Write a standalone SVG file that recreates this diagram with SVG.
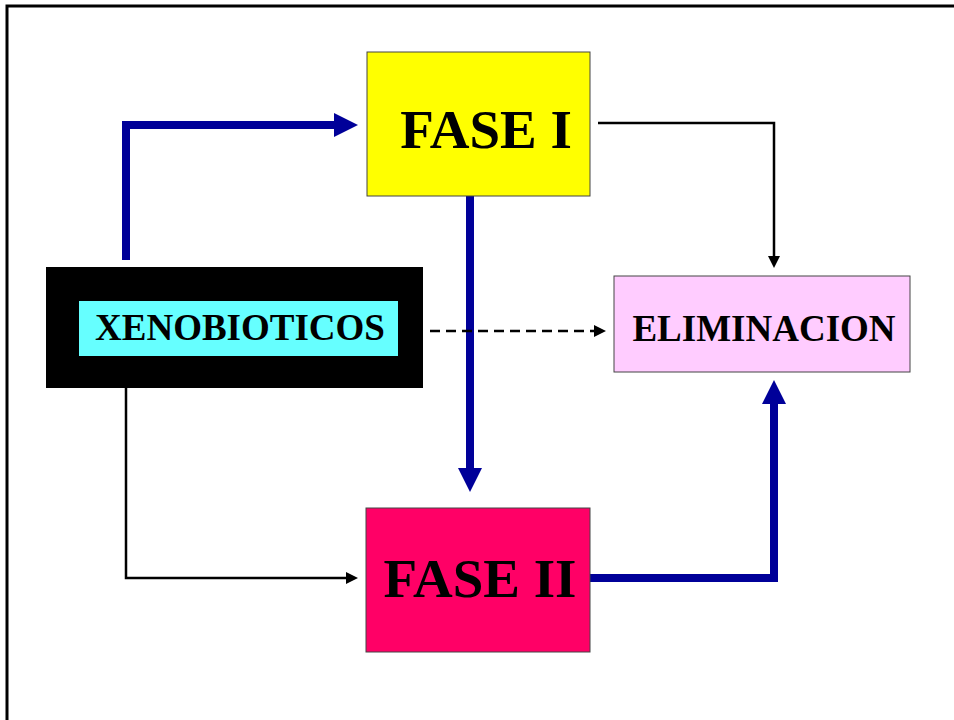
<svg xmlns="http://www.w3.org/2000/svg" width="954" height="720" viewBox="0 0 954 720">
<style>
.t{font-family:"Liberation Serif","Times New Roman",serif;font-weight:bold;fill:#000}
.blue{fill:none;stroke:#000099;stroke-width:8}
.thin{fill:none;stroke:#000;stroke-width:2.5}
</style>
<defs>
<marker id="bh" markerUnits="userSpaceOnUse" markerWidth="26" markerHeight="26" refX="0" refY="12" orient="auto"><path d="M0,0 L24,12 L0,24 Z" fill="#000099"/></marker>
<marker id="kh" markerUnits="userSpaceOnUse" markerWidth="14" markerHeight="14" refX="0" refY="6" orient="auto"><path d="M0,0 L12,6 L0,12 Z" fill="#000"/></marker>
</defs>
<rect x="0" y="0" width="954" height="720" fill="#fff"/>
<path d="M7,720 V6 H960" fill="none" stroke="#000" stroke-width="3"/>
<g id="connectors">
<path class="blue" d="M126,260 V125 H334" marker-end="url(#bh)"/>
<path class="blue" d="M470,196 V468" marker-end="url(#bh)"/>
<path class="blue" d="M590,578 H774 V404" marker-end="url(#bh)"/>
<path class="thin" d="M598,123 H774 V256" marker-end="url(#kh)"/>
<path class="thin" d="M126,388 V578 H346" marker-end="url(#kh)"/>
<path class="thin" d="M430,331 H594" stroke-dasharray="10,6" marker-end="url(#kh)"/>
</g>
<g id="fase1">
<rect x="367" y="52" width="223" height="144" fill="#ffff00" stroke="#444" stroke-width="1"/>
<text class="t" x="486" y="148" font-size="55" text-anchor="middle">FASE I</text>
</g>
<g id="fase2">
<rect x="366" y="508" width="224" height="144" fill="#ff0066" stroke="#444" stroke-width="1"/>
<text class="t" x="480" y="597" font-size="55" text-anchor="middle">FASE II</text>
</g>
<g id="xenobioticos">
<rect x="46" y="267" width="377" height="121" fill="#000"/>
<rect x="79" y="301" width="319" height="55" fill="#66ffff"/>
<text class="t" x="240" y="340" font-size="37" text-anchor="middle">XENOBIOTICOS</text>
</g>
<g id="eliminacion">
<rect x="614" y="276" width="296" height="96" fill="#ffccff" stroke="#444" stroke-width="1"/>
<text class="t" x="764" y="341" font-size="37" text-anchor="middle">ELIMINACION</text>
</g>
</svg>
